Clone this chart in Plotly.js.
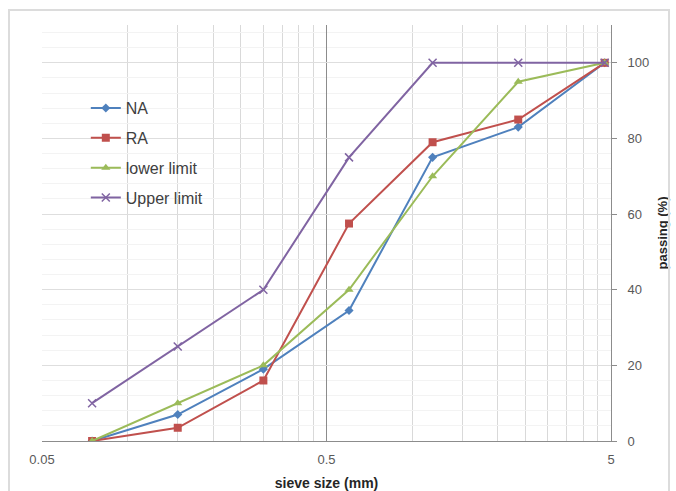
<!DOCTYPE html>
<html>
<head>
<meta charset="utf-8">
<script src="https://cdn.plot.ly/plotly-3.0.1.min.js"></script>
<style>
html,body{margin:0;padding:0;background:#fff;}
#wrap{position:relative;width:676px;height:491px;overflow:hidden;}
#chart{width:676px;height:491px;}
#frame{position:absolute;left:8px;top:9px;width:662px;height:520px;border:2px solid #dcdcdc;pointer-events:none;box-sizing:border-box;}
</style>
</head>
<body>
<div id="wrap"><div id="chart"></div><div id="frame"></div></div>
<script>
// sieve sizes (mm)
var sieveSizes = [0.075, 0.15, 0.3, 0.6, 1.18, 2.36, 4.75];
// passing (%)
var naValues    = [0, 7, 19, 34.5, 75, 83, 100];
var raValues    = [0, 3.5, 16, 57.5, 79, 85, 100];
var lowerLimit  = [0, 10, 20, 40, 70, 95, 100];
var upperLimit  = [10, 25, 40, 75, 100, 100, 100];

var xTickVals = [0.05, 0.5, 5];
var xTickText = ['0.05', '0.5', '5'];
var xMinorVals = [0.1,0.15,0.2,0.25,0.3,0.35,0.4,0.45,1,1.5,2,2.5,3,3.5,4,4.5];
var yTickVals = [0, 20, 40, 60, 80, 100];

var font = 'Liberation Sans, Arial, sans-serif';

function tr(name, y, color, symbol, size, group) {
  return {
    x: sieveSizes, y: y, name: name, type: 'scatter', mode: 'lines+markers',
    legendgroup: group,
    line: {color: color, width: 2},
    marker: {symbol: symbol, size: size, color: color,
             line: {color: color, width: symbol === 'x-thin' ? 1.5 : 0}}
  };
}

var data = [
  tr('NA', naValues, '#4F81BD', 'diamond', 7, 'g1'),
  tr('RA', raValues, '#C0504D', 'square', 8, 'g2'),
  tr('lower limit', lowerLimit, '#9BBB59', 'triangle-up', 8, 'g3'),
  tr('Upper limit', upperLimit, '#8064A2', 'x-thin', 8, 'g4')
];

var layout = {
  width: 676, height: 491,
  margin: {l: 42, r: 65, t: 25, b: 50},
  paper_bgcolor: '#ffffff', plot_bgcolor: '#ffffff',
  font: {family: font, size: 13, color: '#595959'},
  showlegend: true,
  legend: {x: 0.077, y: 0.841, xanchor: 'left', yanchor: 'top',
           bgcolor: 'rgba(0,0,0,0)', font: {family: font, size: 16, color: '#404040'},
           traceorder: 'grouped', tracegroupgap: 6, itemwidth: 30},
  xaxis: {
    type: 'log', range: [Math.log10(0.05), Math.log10(5)],
    tickmode: 'array', tickvals: xTickVals, ticktext: xTickText,
    showgrid: true, gridcolor: '#8c8c8c', gridwidth: 1,
    showline: true, linecolor: '#8c8c8c', linewidth: 1,
    ticks: '', zeroline: false, ticklabelstandoff: 6,
    tickfont: {family: font, size: 13, color: '#595959'},
    minor: {tickmode: 'array', tickvals: xMinorVals, showgrid: true, gridcolor: '#d9d9d9', gridwidth: 1, ticks: ''},
    title: {text: 'sieve size (mm)', font: {family: font, size: 14, color: '#262626', weight: 'bold'}, standoff: 12}
  },
  yaxis: {
    side: 'right', range: [0, 110],
    tickmode: 'array', tickvals: yTickVals,
    showgrid: true, gridcolor: '#dedede', gridwidth: 1,
    showline: true, linecolor: '#8c8c8c', linewidth: 1,
    ticks: 'outside', ticklen: 5, tickcolor: '#8c8c8c', ticklabelstandoff: 8,
    zeroline: false,
    tickfont: {family: font, size: 13, color: '#595959'},
    minor: {dtick: 4, showgrid: true, gridcolor: '#f3f3f3', gridwidth: 1, ticks: ''},
    title: {text: 'passing (%)', font: {family: font, size: 13, color: '#262626', weight: 'bold'}, standoff: 9}
  }
};

Plotly.newPlot('chart', data, layout, {displayModeBar: false, staticPlot: true});
</script>
</body>
</html>
